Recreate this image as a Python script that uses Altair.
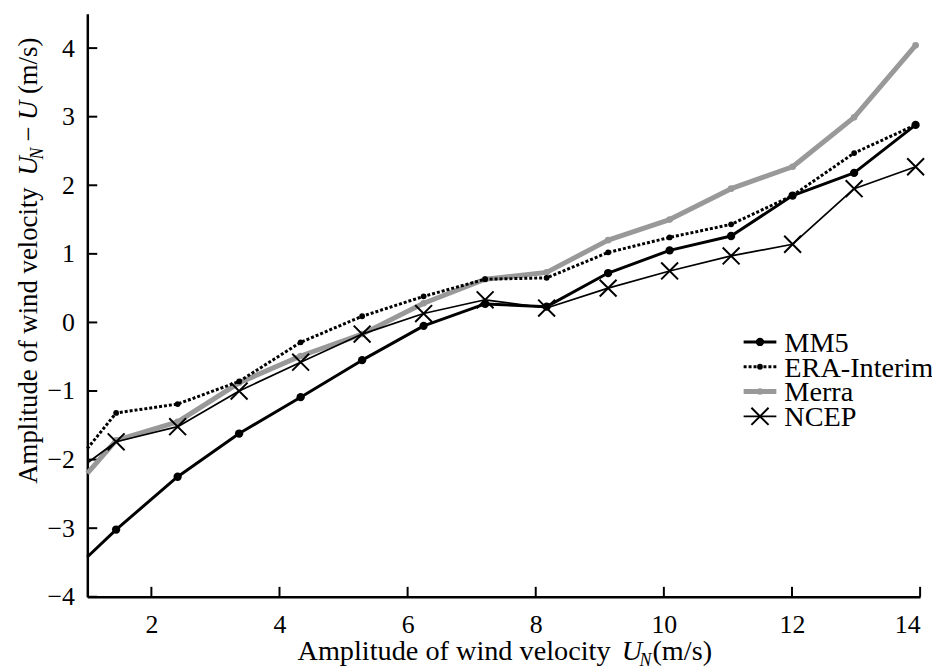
import altair as alt
import pandas as pd

# ---------------- data ----------------
wind_speed = [1.0, 1.45, 2.41, 3.37, 4.33, 5.29, 6.25, 7.21, 8.17, 9.13, 10.09, 11.05, 12.01, 12.97, 13.93]
mm5 = [-3.42, -3.02, -2.25, -1.62, -1.09, -0.55, -0.05, 0.27, 0.23, 0.72, 1.05, 1.26, 1.85, 2.18, 2.88]
era = [-1.84, -1.32, -1.19, -0.86, -0.29, 0.09, 0.38, 0.63, 0.65, 1.02, 1.24, 1.43, 1.85, 2.47, 2.88]
merra = [-2.20, -1.72, -1.45, -0.88, -0.49, -0.17, 0.28, 0.63, 0.73, 1.20, 1.50, 1.95, 2.27, 2.99, 4.04]
ncep = [-2.05, -1.74, -1.52, -1.00, -0.58, -0.17, 0.13, 0.33, 0.21, 0.50, 0.75, 0.97, 1.14, 1.95, 2.27]
series_names = ["MM5", "ERA-Interim", "Merra", "NCEP"]
x_ticks = [2, 4, 6, 8, 10, 12, 14]
y_ticks = [-4, -3, -2, -1, 0, 1, 2, 3, 4]

# ---------------- layout ----------------
W, H = 840, 588
FONT = "Liberation Serif"
GREY = "#999999"
X_CROSS = "M-1,-1L1,1M-1,1L1,-1"

rows = []
for name, vals in zip(series_names, [mm5, era, merra, ncep]):
    for i, (xv, yv) in enumerate(zip(wind_speed, vals)):
        rows.append({"series": name, "x": xv, "y": yv, "idx": i})
df = pd.DataFrame(rows)

xscale = alt.Scale(domain=[1, 14], nice=False, zero=False)
yscale = alt.Scale(domain=[-4, 4.5], nice=False, zero=False)
AX = alt.Axis(values=x_ticks, format="d", title=None, labelPadding=15)
AY = alt.Axis(values=y_ticks, format="d", title=None, labelPadding=13)


def X(f):
    return alt.X(f, scale=xscale, axis=AX, title=None)


def Y(f):
    return alt.Y(f, scale=yscale, axis=AY, title=None)


styles = {
    "MM5": dict(line=dict(color="black", strokeWidth=3),
                mark="circle", pt=dict(color="black", size=70)),
    "ERA-Interim": dict(line=dict(color="black", strokeWidth=3, strokeDash=[3, 2]),
                        mark="circle", pt=dict(color="black", size=34)),
    "Merra": dict(line=dict(color=GREY, strokeWidth=5),
                  mark="circle", pt=dict(color=GREY, size=45)),
    "NCEP": dict(line=dict(color="black", strokeWidth=1.7),
                 mark="cross", pt=dict(color="black", size=289)),
}

base = alt.Chart(df)
layers = []

# inward ticks
xt = alt.Chart(pd.DataFrame({"v": x_ticks})).mark_rule(color="black", strokeWidth=2).encode(
    x=X("v:Q"), y=alt.value(H), y2=alt.value(H - 10))
yt = alt.Chart(pd.DataFrame({"v": y_ticks})).mark_rule(color="black", strokeWidth=2).encode(
    y=Y("v:Q"), x=alt.value(0), x2=alt.value(10))
layers += [xt, yt]

draw_order = ["Merra", "ERA-Interim", "MM5", "NCEP"]
for name in draw_order:
    st = styles[name]
    sub = base.transform_filter(alt.datum.series == name)
    layers.append(sub.mark_line(strokeJoin="round", **st["line"]).encode(
        x=X("x:Q"), y=Y("y:Q"), order="x:Q"))
    psub = sub.transform_filter(alt.datum.idx > 0)
    if st["mark"] == "circle":
        pm = psub.mark_circle(opacity=1, **st["pt"])
    else:
        pm = psub.mark_point(shape=X_CROSS, filled=False, strokeWidth=2, opacity=1, **st["pt"])
    layers.append(pm.encode(x=X("x:Q"), y=Y("y:Q")))

# legend
leg_df = pd.DataFrame({"s": series_names})
leg_y0, leg_dy = 331, 25
for i, name in enumerate(series_names):
    st = styles[name]
    ly = leg_y0 + i * leg_dy
    lsub = alt.Chart(leg_df).transform_filter(alt.datum.s == name)
    layers.append(lsub.mark_rule(**st["line"]).encode(
        x=alt.value(662), x2=alt.value(695), y=alt.value(ly)))
    if st["mark"] == "circle":
        pm = lsub.mark_circle(opacity=1, **st["pt"])
    else:
        pm = lsub.mark_point(shape=X_CROSS, filled=False, strokeWidth=2, opacity=1,
                             color="black", size=300)
    layers.append(pm.encode(x=alt.value(678.5), y=alt.value(ly)))
    layers.append(lsub.mark_text(align="left", baseline="middle", font=FONT, fontSize=28.5,
                                 color="black").encode(
        x=alt.value(703), y=alt.value(ly + 1), text="s:N"))


def piece(text, x, y, size, italic=False, angle=0):
    kw = dict(align="left", baseline="alphabetic", font=FONT, fontSize=size, color="black")
    if italic:
        kw["fontStyle"] = "italic"
    if angle:
        kw["angle"] = angle
    return alt.Chart(pd.DataFrame({"t": [text]})).mark_text(**kw).encode(
        x=alt.value(x), y=alt.value(y), text="t:N")


S = 28.5
SY = 27
SUB = 18
SUBY = 18
# title pieces: (text, italic, size, subscript shift, offset along the text)
x_title = [
    ("Amplitude of wind velocity", False, S, 0, 0),
    ("U", True, S, 0, 327),
    ("N", True, SUB, 6, 345),
    ("(m/s)", False, S, 0, 358),
]
y_title = [
    ("Amplitude of wind velocity", False, SY, 0, 0),
    ("U", True, SY, 0, 311),
    ("N", True, SUBY, 6, 327),
    ("\u2212", False, SY, 0, 345),
    ("U", True, SY, 0, 367),
    ("(m/s)", False, SY, 0, 393),
]

# x title (left-to-right)
x0, xb = 212, 652
for text, it, size, shift, off in x_title:
    layers.append(piece(text, x0 + off, xb + shift, size, italic=it))

# y title (rotated, reading bottom to top)
y0, yb = 474, -51
for text, it, size, shift, off in y_title:
    layers.append(piece(text, yb + shift, y0 - off, size, italic=it, angle=270))

chart = alt.layer(*layers).properties(
    width=W, height=H,
    padding={"left": 80, "top": 3, "right": 12, "bottom": 70},
    autosize=alt.AutoSizeParams(type="none"),
).configure(background="white").configure_view(stroke=None).configure_axis(
    grid=False, tickSize=0, domainColor="black", domainWidth=2.5,
    labelFont=FONT, labelFontSize=26, labelColor="black",
)

chart.save("out.html", embed_options={"renderer": "svg", "actions": False})
